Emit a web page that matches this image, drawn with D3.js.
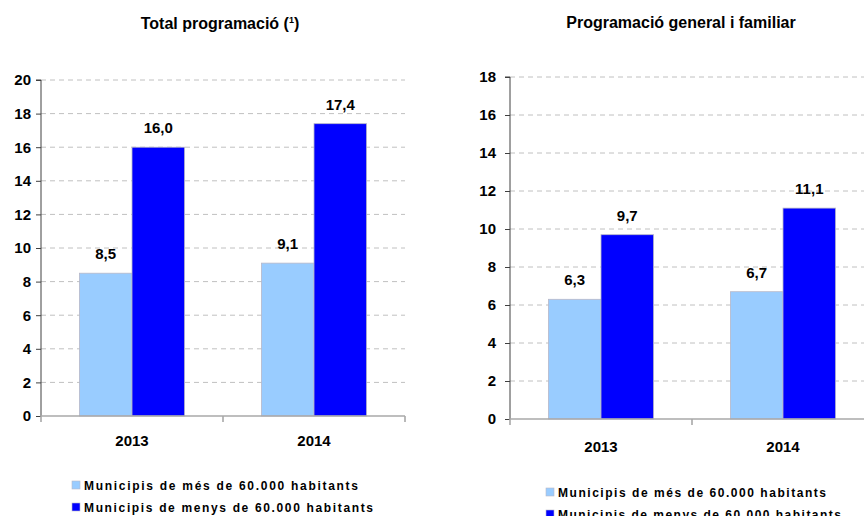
<!DOCTYPE html>
<html>
<head>
<meta charset="utf-8">
<script src="https://cdn.jsdelivr.net/npm/d3@7"></script>
<style>
  html, body { margin: 0; padding: 0; background: #fff; }
  svg text { font-family: "Liberation Sans", Arial, Helvetica, sans-serif; font-weight: bold; fill: #000; }
</style>
</head>
<body>
<svg id="chart" width="864" height="516"></svg>
<script>
// ---- Data ----
const categories = ["2013", "2014"];
const seriesNames = ["Municipis de més de 60.000 habitants", "Municipis de menys de 60.000 habitants"];
const seriesColors = ["#99CCFF", "#0000FF"];
const totalMes = [8.5, 9.1];
const totalMenys = [16.0, 17.4];
const generalMes = [6.3, 6.7];
const generalMenys = [9.7, 11.1];
const totalTicks = [0, 2, 4, 6, 8, 10, 12, 14, 16, 18, 20];
const generalTicks = [0, 2, 4, 6, 8, 10, 12, 14, 16, 18];

const svg = d3.select("#chart");
const fmt = v => d3.format(".1f")(v).replace(".", ",");

function panel(cfg) {
  const g = svg.append("g");
  const x = d3.scaleBand().domain(categories).range([cfg.x0, cfg.x1]).paddingInner(0).paddingOuter(0);
  const xs = d3.scaleBand().domain([0, 1]).range([0, x.bandwidth()]).paddingInner(0).paddingOuter(0.73);
  const y = d3.scaleLinear().domain([0, cfg.max]).range([cfg.yBase, cfg.yTop]);

  // grid
  g.append("g").selectAll("line").data(cfg.ticks.filter(t => t > 0)).join("line")
    .attr("x1", cfg.x0).attr("x2", cfg.x1)
    .attr("y1", d => y(d)).attr("y2", d => y(d))
    .attr("stroke", "#c0c0c0").attr("stroke-width", 1).attr("stroke-dasharray", "5,4");

  // bars
  const data = [];
  categories.forEach((c, i) => {
    cfg.series.forEach((s, j) => data.push({ c, j, v: s[i] }));
  });
  g.append("g").selectAll("rect").data(data).join("rect")
    .attr("x", d => x(d.c) + xs(d.j))
    .attr("y", d => y(d.v))
    .attr("width", xs.bandwidth())
    .attr("height", d => y(0) - y(d.v))
    .attr("fill", d => seriesColors[d.j])
    .attr("stroke", "#b8b8c8").attr("stroke-width", 0.8);

  // value labels
  g.append("g").selectAll("text").data(data).join("text")
    .attr("x", d => x(d.c) + xs(d.j) + xs.bandwidth() / 2)
    .attr("y", d => y(d.v) - 14)
    .attr("text-anchor", "middle")
    .style("font-size", "15px")
    .text(d => fmt(d.v));

  // y axis
  const ya = d3.axisLeft(y).tickValues(cfg.ticks).tickSize(5).tickPadding(cfg.tickPad).tickFormat(d3.format("d"));
  const yg = g.append("g").attr("transform", `translate(${cfg.x0},0)`).call(ya);
  yg.select(".domain").attr("stroke", "#404040").attr("d", `M-5,${cfg.yTop}H0V${cfg.yBase}`);
  yg.selectAll(".tick line").attr("stroke", "#404040");
  yg.selectAll(".tick text").style("font-size", "15px").style("font-family", null).attr("fill", "#000");
  yg.attr("font-family", null).attr("font-size", null);

  // x axis
  const xg = g.append("g");
  xg.append("line").attr("x1", cfg.x0).attr("x2", cfg.x1).attr("y1", y(0)).attr("y2", y(0))
    .attr("stroke", "#a8a8a8").attr("stroke-width", 1.6);
  const bounds = [cfg.x0].concat(categories.map(c => x(c) + x.bandwidth()));
  xg.selectAll("line.t").data(bounds).join("line").attr("class", "t")
    .attr("x1", d => d).attr("x2", d => d).attr("y1", y(0)).attr("y2", y(0) + 6)
    .attr("stroke", "#a8a8a8").attr("stroke-width", 1.6);
  xg.selectAll("text").data(categories).join("text")
    .attr("x", d => x(d) + x.bandwidth() / 2)
    .attr("y", y(0) + cfg.catOff)
    .attr("text-anchor", "middle")
    .style("font-size", "15px")
    .text(d => d);

  // title
  const t = g.append("text").attr("x", cfg.titleX).attr("y", cfg.titleY)
    .attr("text-anchor", "middle").style("font-size", "16px");
  t.append("tspan").text(cfg.title);
  if (cfg.note) {
    t.append("tspan").text(" (");
    t.append("tspan").text(cfg.note).style("font-size", "9px").attr("dy", "-6");
    t.append("tspan").text(")").attr("dy", "6");
  }

  // legend
  const lg = g.append("g");
  seriesNames.forEach((n, i) => {
    const yy = cfg.legY + i * 22;
    lg.append("rect").attr("x", cfg.legX).attr("y", yy - 9).attr("width", 8).attr("height", 8)
      .attr("fill", seriesColors[i]).attr("stroke", "#b8b8c8").attr("stroke-width", 0.6);
    lg.append("text").attr("x", cfg.legX + 12).attr("y", yy)
      .style("font-size", "12px")
      .attr("textLength", cfg.legW[i]).attr("lengthAdjust", "spacing")
      .text(n);
  });
}

panel({
  x0: 41, x1: 405, yBase: 416, yTop: 80, max: 20, ticks: totalTicks, tickPad: 5,
  series: [totalMes, totalMenys], catOff: 30,
  title: "Total programació", note: "1", titleX: 220, titleY: 29,
  legX: 72, legY: 490, legW: [274, 289]
});
panel({
  x0: 510, x1: 874, yBase: 419, yTop: 77, max: 18, ticks: generalTicks, tickPad: 9,
  series: [generalMes, generalMenys], catOff: 33,
  title: "Programació general i familiar", titleX: 681, titleY: 28,
  legX: 546, legY: 497, legW: [268, 283]
});
</script>
</body>
</html>
